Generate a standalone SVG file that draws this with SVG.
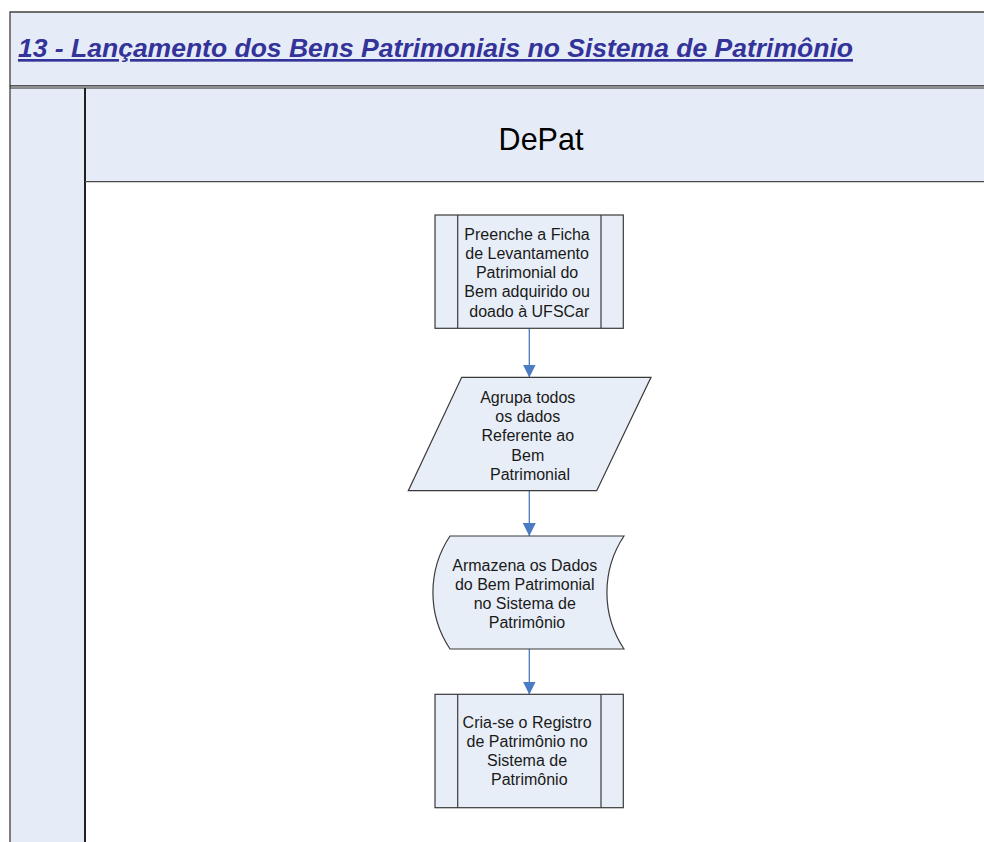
<svg xmlns="http://www.w3.org/2000/svg" width="984" height="842" viewBox="0 0 984 842">
  <style>
    .band { fill: #E6ECF7; }
    .frame { fill: none; stroke: #404040; stroke-width: 1.3; }
    .shape { fill: #E8EEF7; stroke: #3A3A3A; stroke-width: 1.2; }
    .lbl { font-family: "Liberation Sans", Arial, sans-serif; font-size: 16px; fill: #1A1A1A; text-anchor: middle; }
    .conn { stroke: #4A7BC4; stroke-width: 1.3; fill: none; marker-end: url(#arrow); }
  </style>
  <defs>
    <marker id="arrow" markerWidth="13" markerHeight="13" refX="13" refY="6.5" orient="auto" markerUnits="userSpaceOnUse">
      <path d="M0,0 L13,6.5 L0,13 Z" fill="#4A7BC4"/>
    </marker>
  </defs>

  <rect width="984" height="842" fill="#FFFFFF"/>

  <!-- pool: title band, lane label column, lane header -->
  <g id="pool">
    <rect class="band" x="10" y="12" width="980" height="74"/>
    <rect class="band" x="10" y="88" width="75" height="760"/>
    <rect class="band" x="85" y="88" width="905" height="94"/>
    <path class="frame" d="M10,848 V12 H990"/>
    <line x1="10" y1="85.8" x2="990" y2="85.8" stroke="#202020" stroke-width="1.2"/>
    <line x1="10" y1="88" x2="990" y2="88" stroke="#202020" stroke-width="1.2"/>
    <line x1="85" y1="88" x2="85" y2="848" stroke="#202020" stroke-width="2"/>
    <line x1="85" y1="181.7" x2="990" y2="181.7" stroke="#4A4A4A" stroke-width="1.3"/>
    <text x="18" y="57" font-family="Liberation Sans, Arial, sans-serif" font-size="26.5" font-weight="bold" font-style="italic" fill="#333399" text-decoration="underline">13 - Lançamento dos Bens Patrimoniais no Sistema de Patrimônio</text>
    <text x="541" y="150" font-family="Liberation Sans, Arial, sans-serif" font-size="30.5" fill="#000000" text-anchor="middle">DePat</text>
  </g>

  <!-- connectors -->
  <g id="connectors">
    <line class="conn" x1="529.3" y1="328.5" x2="529.3" y2="377.5"/>
    <line class="conn" x1="529.3" y1="491" x2="529.3" y2="536"/>
    <line class="conn" x1="529.3" y1="649" x2="529.3" y2="694.5"/>
  </g>

  <!-- predefined process -->
  <g id="node-preenche">
    <rect class="shape" x="435" y="215" width="188.3" height="113.3"/>
    <line class="shape" x1="457.7" y1="215" x2="457.7" y2="328.3"/>
    <line class="shape" x1="601" y1="215" x2="601" y2="328.3"/>
    <text class="lbl">
      <tspan x="529.3" y="239.5">Preenche a Ficha</tspan>
      <tspan x="529.3" y="258.8">de Levantamento</tspan>
      <tspan x="529.3" y="278.1">Patrimonial do</tspan>
      <tspan x="529.3" y="297.4">Bem adquirido ou</tspan>
      <tspan x="529.3" y="316.7">doado à UFSCar</tspan>
    </text>
  </g>

  <!-- data (parallelogram) -->
  <g id="node-agrupa">
    <path class="shape" d="M461.7,377.3 H651 L596.7,490.7 H408.3 Z"/>
    <text class="lbl">
      <tspan x="530" y="403">Agrupa todos</tspan>
      <tspan x="530" y="422.2">os dados</tspan>
      <tspan x="530" y="441.4">Referente ao</tspan>
      <tspan x="530" y="460.6">Bem</tspan>
      <tspan x="530" y="479.8">Patrimonial</tspan>
    </text>
  </g>

  <!-- stored data -->
  <g id="node-armazena">
    <path class="shape" d="M450,536 H624 A102 102 0 0 0 624,649 H450 A102 102 0 0 1 450,536 Z"/>
    <text class="lbl">
      <tspan x="527" y="570.5">Armazena os Dados</tspan>
      <tspan x="527" y="589.5">do Bem Patrimonial</tspan>
      <tspan x="527" y="608.5">no Sistema de</tspan>
      <tspan x="527" y="627.5">Patrimônio</tspan>
    </text>
  </g>

  <!-- predefined process -->
  <g id="node-cria">
    <rect class="shape" x="435" y="694.3" width="188.3" height="113.4"/>
    <line class="shape" x1="457.7" y1="694.3" x2="457.7" y2="807.7"/>
    <line class="shape" x1="601" y1="694.3" x2="601" y2="807.7"/>
    <text class="lbl">
      <tspan x="529.3" y="728">Cria-se o Registro</tspan>
      <tspan x="529.3" y="747.1">de Patrimônio no</tspan>
      <tspan x="529.3" y="766.2">Sistema de</tspan>
      <tspan x="529.3" y="785.3">Patrimônio</tspan>
    </text>
  </g>
</svg>
